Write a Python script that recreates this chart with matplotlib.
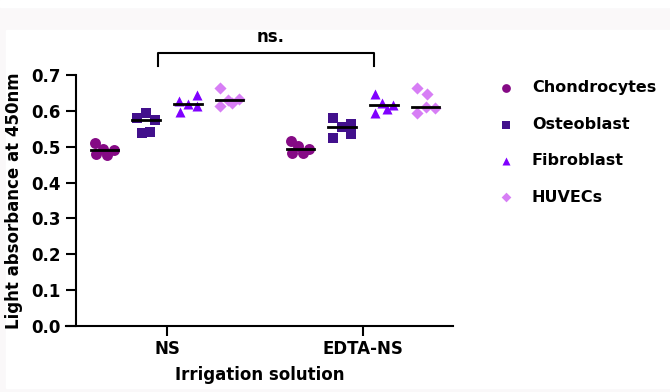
import numpy as np
import matplotlib.pyplot as plt
from matplotlib.patches import Rectangle

# groups and cell types
groups = ['NS', 'EDTA-NS']
cell_types = ['Chondrocytes', 'Osteoblast', 'Fibroblast', 'HUVECs']

# light absorbance at 450nm, 5 replicates per group
chondro_ns = [0.509, 0.479, 0.494, 0.477, 0.491]
chondro_edta = [0.516, 0.503, 0.482, 0.482, 0.493]
osteo_ns = [0.593, 0.579, 0.574, 0.537, 0.542]
osteo_edta = [0.581, 0.525, 0.556, 0.562, 0.535]
fibro_ns = [0.628, 0.598, 0.618, 0.644, 0.613]
fibro_edta = [0.647, 0.595, 0.621, 0.604, 0.616]
huvec_ns = [0.663, 0.613, 0.630, 0.623, 0.632]
huvec_edta = [0.663, 0.647, 0.595, 0.612, 0.607]

# horizontal scatter of the replicates inside each cluster
jitter_chondro_ns = [-0.048, -0.040, -0.008, 0.016, 0.048]
jitter_chondro_edta = [-0.047, -0.014, -0.042, 0.014, 0.046]
jitter_osteo_ns = [0.0, -0.044, 0.044, -0.020, 0.019]
jitter_osteo_edta = [-0.046, -0.046, 0.0, 0.046, 0.046]
jitter_fibro_ns = [-0.048, -0.043, 0.0, 0.046, 0.046]
jitter_fibro_edta = [-0.046, -0.046, -0.012, 0.014, 0.047]
jitter_huvec_ns = [-0.048, -0.048, -0.011, 0.014, 0.048]
jitter_huvec_edta = [-0.046, 0.004, -0.046, 0.0, 0.047]

values = {
    'Chondrocytes': [chondro_ns, chondro_edta],
    'Osteoblast': [osteo_ns, osteo_edta],
    'Fibroblast': [fibro_ns, fibro_edta],
    'HUVECs': [huvec_ns, huvec_edta],
}
jitters = {
    'Chondrocytes': [jitter_chondro_ns, jitter_chondro_edta],
    'Osteoblast': [jitter_osteo_ns, jitter_osteo_edta],
    'Fibroblast': [jitter_fibro_ns, jitter_fibro_edta],
    'HUVECs': [jitter_huvec_ns, jitter_huvec_edta],
}
colors = ['#850a85', '#42108c', '#8000ff', '#d77ef5']
markers = ['o', 's', '^', 'D']
sizes = [62, 52, 52, 38]
offsets = [-0.32, -0.107, 0.107, 0.32]

plt.rcParams['font.family'] = 'DejaVu Sans'
plt.rcParams['font.weight'] = 'bold'

fig = plt.figure(figsize=(6.7, 3.92), dpi=100)
fig.patch.set_facecolor('#faf8f9')

# white panel behind the plot (the page background)
bg = fig.add_axes([0, 0, 1, 1], zorder=-1)
bg.axis('off')
bg.add_patch(Rectangle((6 / 670, 4 / 392), 1, (388 - 30) / 392, color='white'))
bg.add_patch(Rectangle((0, 385 / 392), 1, 7 / 392, color='white'))
bg.set_xlim(0, 1)
bg.set_ylim(0, 1)

ax = fig.add_axes([66 / 670, 66 / 392, 387 / 670, 251 / 392])
ax.patch.set_alpha(0)

handles = []
for k, ct in enumerate(cell_types):
    for g in range(len(groups)):
        x0 = g + offsets[k]
        ys = np.array(values[ct][g])
        xs = x0 + np.array(jitters[ct][g])
        h = ax.scatter(xs, ys, s=sizes[k], marker=markers[k], color=colors[k],
                       linewidths=0, zorder=2, clip_on=False)
        med = np.median(ys)
        ax.plot([x0 - 0.07, x0 + 0.07], [med, med], color='black', lw=2, zorder=3)
    handles.append(h)

ax.set_xlim(-0.515, 1.459)
ax.set_ylim(0, 0.7)
ax.spines['top'].set_visible(False)
ax.spines['right'].set_visible(False)
ax.spines['left'].set_position(('data', -0.464))
for s in ['left', 'bottom']:
    ax.spines[s].set_linewidth(1.5)

ax.set_xticks(range(len(groups)))
ax.set_xticklabels(groups)
ax.set_yticks(np.arange(0, 0.71, 0.1))
ax.set_yticklabels(['%.1f' % v for v in np.arange(0, 0.71, 0.1)])
ax.tick_params(axis='both', width=1.5, length=7, labelsize=12)
ax.tick_params(axis='y', pad=4)
ax.tick_params(axis='x', pad=3)

ax.set_xlabel('Irrigation solution', fontsize=12, fontweight='bold', labelpad=6)
ax.set_ylabel('Light absorbance at 450nm', fontsize=12, fontweight='bold', labelpad=6)

# significance bracket
ax.plot([-0.046, -0.046, 1.056, 1.056], [0.725, 0.761, 0.761, 0.725],
        color='black', lw=1.5, clip_on=False)
ax.text(0.53, 0.805, 'ns.', ha='center', va='center', fontsize=12,
        fontweight='bold', clip_on=False)

leg = ax.legend(handles, cell_types, loc='upper left', frameon=False,
                bbox_to_anchor=(484 / 670, 1 - 74 / 392),
                bbox_transform=fig.transFigure, fontsize=11.5, markerscale=0.8,
                labelspacing=1.34, handletextpad=0.6, borderaxespad=0)

plt.savefig('out.png', dpi=100, facecolor=fig.get_facecolor())
